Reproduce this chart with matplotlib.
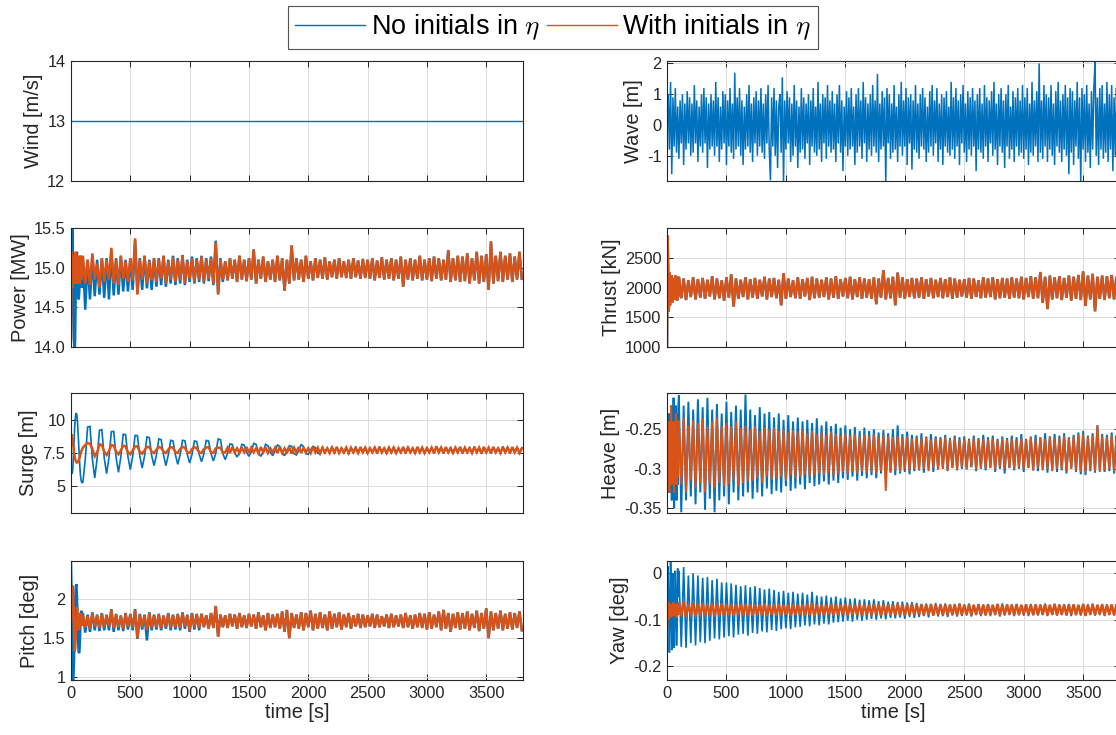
import numpy as np
import matplotlib
matplotlib.use("Agg")
import matplotlib.pyplot as plt
from matplotlib.lines import Line2D

# ---------------- time grids ----------------
time_early = np.arange(0, 100, 5)
time_main = np.arange(100, 3801, 20)
time = np.concatenate([time_early, time_main])
time_wave = np.arange(0, 3801, 10)

x_ticks = [0, 500, 1000, 1500, 2000, 2500, 3000, 3500]
x_tick_labels = ["0", "500", "1000", "1500", "2000", "2500", "3000", "3500"]

# ---------------- Wind ----------------
wind_time = [0, 3810]
wind = [13.0, 13.0]

# ---------------- Wave (only "no initials"), 10 s samples ----------------
wave = [0.3, 1.0, -0.8, 1.4, -1.6, 0.9, -0.7, 1.2, -0.9, 0.6, -1.1, 0.8, -0.6, 1.0, -1.3, 0.7, -0.8, 1.1, -0.6, 0.9,
        -1.0, 0.7, -0.9, 1.3, -0.6, 0.8, -1.2, 0.6, -0.7, 1.0, -0.9, 1.2, -0.6, 0.9, -1.4, 0.7, -0.8, 1.0, -0.7, 0.8,
        -1.0, 1.4, -0.7, 0.9, -1.2, 0.6, -0.8, 1.1, -0.6, 1.0, -1.3, 0.8, -0.7, 1.2, -0.9, 0.7, -1.1, 1.7, -0.8, 0.9,
        -0.7, 1.2, -1.0, 0.8, -1.3, 0.6, -0.8, 1.0, -0.7, 1.3, -0.9, 0.7, -1.2, 0.9, -0.6, 1.1, -1.0, 0.8, -0.7, 1.2,
        -0.9, 0.7, -1.1, 1.0, -0.6, 1.3, -0.8, -1.8, 0.9, -0.7, 1.2, -1.0, 0.8, -1.4, 0.6, 1.0, -0.9, 1.55, -1.9, 0.8,
        -0.8, 1.1, -0.6, 0.9, -1.2, 0.7, -1.0, 1.3, -0.7, 0.8, -1.4, 0.6, -0.9, 1.2, -0.8, 0.9, -1.1, 0.7, -0.6, 1.0,
        -1.3, 0.8, -0.7, 1.2, -0.9, 0.6, -1.0, 1.4, -0.8, 0.7, -1.2, 1.0, -0.6, 0.9, -1.1, 1.3, -0.7, 0.8, -0.9, 1.1,
        -0.8, 0.7, -1.2, 1.0, -0.6, 1.3, -0.9, 0.8, -1.5, 0.6, -0.7, 1.1, -1.0, 0.9, -0.8, 1.2, -0.7, 0.6, -1.3, 1.0,
        -0.9, 1.2, -0.7, 0.8, -1.1, 1.4, -0.6, 0.9, -1.2, 0.7, -0.8, 1.0, -1.0, 1.3, -0.7, 0.8, -0.9, 1.66, -1.2, 0.7,
        -0.8, 1.1, -0.7, 0.9, -1.9, 1.2, -0.6, 1.0, -1.1, 0.7, -0.9, 1.3, -0.8, 0.6, -1.2, 1.0, -0.7, 1.4, -1.0, 0.8,
        -0.7, 1.2, -1.3, 0.9, -0.6, 1.0, -1.45, 0.8, -0.8, 1.3, -0.9, 0.7, -1.1, 1.0, -0.7, 1.2, -0.8, 0.9, -1.2, 0.6,
        -0.9, 1.1, -0.7, 1.3, -1.0, 0.8, -0.6, 1.2, -1.2, 0.7, -0.8, 1.0, -1.3, 0.9, -0.7, 1.1, -0.9, 0.6, -1.0, 1.4,
        -0.8, 0.9, -1.1, 1.2, -0.7, 0.8, -1.3, 1.0, -0.6, 1.3, -0.9, 0.7, -1.2, 1.1, -0.8, 0.9, -1.0, 1.2, -0.7, 0.8,
        -1.5, 1.0, -0.8, 1.2, -0.9, 0.7, -1.1, 1.3, -0.7, 0.9, -1.2, 0.8, -0.6, 1.1, -1.0, 1.4, -0.8, 0.7, -1.3, 1.0,
        -0.7, 1.2, -0.9, 0.8, -1.4, 1.0, -0.7, 1.3, -1.1, 0.6, -0.8, 1.1, -1.2, 0.9, -0.7, 1.2, -1.0, 0.8, -0.9, 1.3,
        -1.1, 0.9, -0.8, 1.2, -1.3, 0.7, -0.9, 1.4, -1.0, 0.8, -0.7, 1.1, -1.2, 2.0, -0.9, 0.8, -1.1, 1.3, -0.7, 1.0,
        -1.2, 0.9, -0.8, 1.3, -1.0, 0.7, -1.3, 1.1, -0.7, 1.4, -0.9, 0.8, -1.2, 1.0, -0.8, 1.3, -1.0, 0.9, -1.6, 1.2,
        -0.9, 1.1, -1.3, 0.8, -0.7, 1.4, -1.1, 0.9, -1.9, 1.2, -0.8, 1.0, -1.2, 1.3, -0.9, 0.7, -1.4, 1.1, -0.8, 1.2,
        2.05, -1.0, 0.9, -1.3, 1.2, -0.8, 1.3, -1.1, 0.7, -0.9, 1.4, -1.2, 1.0, -0.8, 1.3, -1.5, 0.9, -1.0, 1.2, -0.7,
        1.0]

# ---------------- Power [MW] ----------------
power_with = [14.06, 15.2, 14.9, 14.75, 15.15, 14.85, 15.1, 14.8, 15.2, 14.85,
              15.05, 14.8, 15.15, 14.9, 15.1, 14.8, 15.15, 14.85, 15.1, 14.9,
              15.15, 14.8, 15.1, 14.78, 15.18, 14.85, 15.05, 14.75, 15.12, 14.82,
              15.1, 14.85, 15.25, 14.8, 15.1, 14.78, 15.15, 14.86, 15.08, 14.82,
              15.12, 14.84, 15.37, 14.66, 15.1, 14.85, 15.15, 14.8, 15.08, 14.84,
              15.12, 14.82, 15.1, 14.86, 15.15, 14.8, 15.08, 14.85, 15.13, 14.82,
              15.1, 14.84, 15.15, 14.8, 15.08, 14.86, 15.12, 14.82, 15.1, 14.85,
              15.14, 14.82, 15.1, 14.86, 15.12, 14.8, 15.32, 14.66, 15.1, 14.85,
              15.08, 14.84, 15.12, 14.86, 15.1, 14.82, 15.15, 14.85, 15.1, 14.83,
              15.12, 14.85, 15.23, 14.8, 15.1, 14.86, 15.14, 14.82, 15.08, 14.85,
              15.1, 14.82, 15.15, 14.84, 15.12, 14.71, 15.1, 14.8, 15.28, 14.84,
              15.12, 14.85, 15.1, 14.82, 15.15, 14.86, 15.08, 14.84, 15.12, 14.87,
              15.1, 14.86, 15.13, 14.85, 15.08, 14.88, 15.1, 14.86, 15.12, 14.88,
              15.08, 14.87, 15.1, 14.86, 15.12, 14.88, 15.09, 14.86, 15.11, 14.87,
              15.1, 14.86, 15.12, 14.84, 15.09, 14.87, 15.13, 14.85, 15.1, 14.86,
              15.12, 14.84, 15.1, 14.86, 15.14, 14.76, 15.1, 14.85, 15.12, 14.84,
              15.1, 14.86, 15.15, 14.84, 15.1, 14.85, 15.12, 14.83, 15.14, 14.86,
              15.12, 14.84, 15.1, 14.85, 15.22, 14.82, 15.12, 14.84, 15.15, 14.82,
              15.14, 14.83, 15.18, 14.8, 15.12, 14.84, 15.2, 14.8, 15.15, 14.82,
              15.17, 14.72, 15.33, 14.8, 15.15, 14.83, 15.2, 14.82, 15.15, 14.85,
              15.18, 14.82, 15.14, 14.85, 15.2, 14.86]
power_no_start = [14.1, 15.0, 15.5, 15.3, 14.7, 14.2, 13.9, 14.1, 14.7, 15.1,
                  15.2, 14.9, 14.65, 14.6, 14.7, 15.0, 15.15, 14.9, 14.75, 14.95,
                  15.12, 14.47, 15.1, 14.6, 15.15, 14.64, 15.1, 14.66, 15.12, 14.62,
                  15.12, 14.6, 15.22, 14.65, 15.12, 14.66, 15.15, 14.7, 15.1, 14.7,
                  15.12, 14.72, 15.35, 14.68, 15.12, 14.72, 15.15, 14.74, 15.1, 14.72,
                  15.12, 14.76, 15.12, 14.78, 15.15, 14.76, 15.1, 14.8, 15.15, 14.78,
                  15.12, 14.8, 15.16, 14.78, 15.1, 14.82, 15.14, 14.8, 15.12, 14.82,
                  15.15, 14.8, 15.12, 14.83, 15.14, 14.78, 15.34, 14.68, 15.12, 14.82]
power_no = power_no_start + power_with[len(power_no_start):]

# ---------------- Thrust [kN] ----------------
thrust_with = [1000, 2870, 2300, 1600, 2250, 1700, 2150, 1800, 2200, 1750,
               2100, 1850, 2150, 1800, 2200, 1820, 2120, 1780, 2180, 1850,
               2180, 1820, 2150, 1790, 2120, 1840, 2170, 1800, 2140, 1830,
               2160, 1810, 2130, 1850, 2190, 1800, 2150, 1820, 2120, 1780,
               2170, 1830, 2220, 1680, 2150, 1810, 2130, 1840, 2170, 1800,
               2140, 1830, 2160, 1810, 2130, 1850, 2180, 1800, 2150, 1840,
               2160, 1820, 2130, 1700, 2240, 1810, 2150, 1840, 2120, 1820,
               2170, 1810, 2140, 1850, 2160, 1790, 2180, 1820, 2150, 1830,
               2130, 1840, 2170, 1800, 2150, 1830, 2190, 1810, 2140, 1850,
               2160, 1820, 2180, 1800, 2140, 1840, 2170, 1810, 2150, 1830,
               2140, 1810, 2170, 1720, 2150, 1830, 2290, 1800, 2160, 1820,
               2180, 1700, 2250, 1830, 2170, 1810, 2140, 1840, 2160, 1820,
               2150, 1830, 2170, 1810, 2140, 1850, 2160, 1820, 2130, 1840,
               2160, 1820, 2140, 1840, 2170, 1810, 2150, 1830, 2130, 1850,
               2140, 1830, 2160, 1810, 2150, 1840, 2120, 1820, 2170, 1830,
               2150, 1840, 2170, 1800, 2140, 1820, 2160, 1830, 2150, 1810,
               2170, 1830, 2150, 1820, 2180, 1800, 2160, 1840, 2190, 1810,
               2170, 1820, 2260, 1740, 2180, 1638, 2200, 1800, 2170, 1820,
               2190, 1790, 2160, 1830, 2200, 1780, 2180, 1810, 2210, 1790,
               2270, 1690, 2200, 1800, 2230, 1600, 2180, 1810, 2200, 1790,
               2190, 1820, 2210, 1800, 2180, 1830]
thrust_no = list(thrust_with)

# ---------------- Surge [m] ----------------
surge_no = [6.4, 6.1, 5.95, 6.3, 7.2, 8.3, 9.3, 10.0, 10.4, 10.5,
            10.3, 9.8, 9.0, 8.1, 7.2, 6.4, 5.8, 5.45, 5.3, 5.28,
            5.3, 7.0, 9.45, 9.5, 7.05, 5.62, 7.08, 9.2, 9.25, 7.14,
            5.95, 7.16, 9.1, 9.12, 7.18, 6.05, 7.2, 8.9, 8.88, 7.22,
            6.25, 7.25, 8.82, 8.8, 7.27, 6.37, 7.28, 8.7, 8.66, 7.3,
            6.55, 7.35, 8.55, 8.5, 7.34, 6.55, 7.36, 8.45, 8.4, 7.37,
            6.65, 7.38, 8.45, 8.42, 7.4, 6.75, 7.4, 8.4, 8.36, 7.42,
            6.85, 7.43, 8.44, 8.4, 7.45, 6.9, 7.45, 8.55, 8.5, 7.45,
            7.0, 7.5, 8.18, 8.14, 7.5, 7.2, 7.55, 8.15, 8.1, 7.55,
            7.25, 7.6, 8.22, 8.15, 7.5, 7.25, 7.6, 8.15, 8.05, 7.55,
            7.3, 7.65, 8.1, 8.0, 7.5, 7.3, 7.7, 8.05, 8.0, 7.45,
            7.35, 7.7, 8.15, 7.95, 7.45, 7.4, 7.75, 8.0, 7.9, 7.5,
            7.4, 7.95, 7.45, 7.9, 7.5, 8.0, 7.45, 7.95, 7.5, 7.9,
            7.45, 7.95, 7.4, 7.9, 7.5, 8.0, 7.45, 7.9, 7.5, 7.95,
            7.45, 7.9, 7.5, 7.95, 7.45, 8.0, 7.5, 7.9, 7.45, 7.95,
            7.5, 7.95, 7.45, 7.9, 7.5, 7.95, 7.45, 8.0, 7.5, 7.9,
            7.45, 7.95, 7.5, 7.9, 7.45, 7.95, 7.5, 7.9, 7.45, 8.0,
            7.5, 7.95, 7.45, 7.9, 7.5, 7.95, 7.45, 7.9, 7.5, 7.95,
            7.45, 7.9, 7.5, 7.95, 7.45, 8.0, 7.5, 7.9, 7.45, 7.95,
            7.5, 7.9, 7.45, 7.95, 7.5, 7.9, 7.45, 8.0, 7.5, 7.95,
            7.45, 7.9, 7.5, 7.95, 7.45, 7.9]
surge_with = [8.8, 8.9, 8.7, 8.4, 8.0, 7.6, 7.3, 7.05, 6.9, 6.82,
              6.78, 6.8, 6.85, 6.95, 7.1, 7.25, 7.4, 7.55, 7.7, 7.8,
              7.9, 8.1, 8.25, 8.2, 7.8, 7.25, 7.55, 8.15, 8.1, 7.6,
              7.35, 7.65, 8.1, 8.05, 7.6, 7.4, 7.7, 8.05, 8.0, 7.55,
              7.4, 7.7, 8.0, 8.0, 7.6, 7.45, 7.7, 7.95, 7.95, 7.6,
              7.5, 7.75, 7.95, 7.9, 7.6, 7.5, 7.75, 7.95, 7.9, 7.55,
              7.5, 7.8, 7.95, 7.9, 7.55, 7.5, 7.8, 7.95, 7.85, 7.55,
              7.5, 7.8, 7.9, 7.95, 7.55, 7.5, 7.85, 7.9, 7.9, 7.5,
              7.55, 7.9, 7.5, 7.95, 7.55, 7.85, 7.5, 7.9, 7.55, 7.95,
              7.5, 7.9, 7.55, 7.85, 7.5, 7.95, 7.55, 7.9, 7.5, 7.85,
              7.55, 7.9, 7.5, 7.95, 7.5, 7.85, 7.55, 7.9, 7.45, 7.9,
              7.55, 7.95, 7.5, 7.9, 7.55, 7.85, 7.5, 7.95, 7.55, 7.9,
              7.5, 7.9, 7.55, 7.85, 7.5, 7.9, 7.55, 7.95, 7.5, 7.85,
              7.55, 7.9, 7.5, 7.9, 7.55, 7.85, 7.5, 7.95, 7.55, 7.9,
              7.5, 7.85, 7.55, 7.9, 7.5, 7.95, 7.55, 7.85, 7.5, 7.9,
              7.55, 7.9, 7.5, 7.85, 7.55, 7.95, 7.5, 7.9, 7.55, 7.85,
              7.5, 7.95, 7.55, 7.9, 7.5, 7.85, 7.55, 7.9, 7.5, 8.0,
              7.55, 7.9, 7.5, 7.95, 7.55, 7.85, 7.5, 7.9, 7.55, 7.95,
              7.5, 7.9, 7.55, 7.85, 7.5, 7.95, 7.55, 7.9, 7.45, 7.95,
              7.55, 7.9, 7.5, 7.95, 7.55, 7.85, 7.5, 7.95, 7.55, 7.9,
              7.5, 7.95, 7.55, 7.9, 7.5, 7.85]

# ---------------- Heave [m] ----------------
heave_no = [-0.28, -0.25, -0.33, -0.23, -0.33, -0.24, -0.32, -0.22, -0.34, -0.23,
            -0.33, -0.21, -0.35, -0.24, -0.33, -0.22, -0.34, -0.23, -0.32, -0.22,
            -0.207, -0.355, -0.22, -0.34, -0.215, -0.335, -0.225, -0.345, -0.212, -0.33,
            -0.222, -0.352, -0.21, -0.338, -0.225, -0.355, -0.218, -0.34, -0.23, -0.335,
            -0.215, -0.345, -0.228, -0.33, -0.22, -0.34, -0.225, -0.335, -0.206, -0.33,
            -0.225, -0.338, -0.232, -0.33, -0.222, -0.335, -0.23, -0.325, -0.228, -0.332,
            -0.235, -0.328, -0.23, -0.33, -0.238, -0.322, -0.232, -0.328, -0.24, -0.325,
            -0.235, -0.32, -0.24, -0.326, -0.238, -0.318, -0.242, -0.322, -0.236, -0.32,
            -0.245, -0.316, -0.24, -0.32, -0.246, -0.315, -0.243, -0.318, -0.248, -0.312,
            -0.245, -0.314, -0.25, -0.31, -0.247, -0.315, -0.252, -0.309, -0.248, -0.312,
            -0.252, -0.308, -0.25, -0.312, -0.254, -0.306, -0.251, -0.31, -0.255, -0.305,
            -0.25, -0.308, -0.245, -0.306, -0.256, -0.304, -0.253, -0.307, -0.257, -0.303,
            -0.258, -0.302, -0.255, -0.305, -0.26, -0.3, -0.256, -0.304, -0.259, -0.301,
            -0.26, -0.3, -0.257, -0.303, -0.261, -0.299, -0.258, -0.302, -0.26, -0.3,
            -0.259, -0.301, -0.262, -0.298, -0.258, -0.303, -0.261, -0.3, -0.257, -0.302,
            -0.26, -0.299, -0.258, -0.304, -0.262, -0.3, -0.259, -0.306, -0.261, -0.299,
            -0.258, -0.302, -0.26, -0.3, -0.256, -0.304, -0.262, -0.299, -0.259, -0.302,
            -0.257, -0.303, -0.26, -0.3, -0.255, -0.305, -0.259, -0.301, -0.256, -0.304,
            -0.258, -0.302, -0.255, -0.306, -0.26, -0.3, -0.257, -0.304, -0.254, -0.307,
            -0.252, -0.308, -0.258, -0.303, -0.255, -0.305, -0.245, -0.302, -0.256, -0.304,
            -0.257, -0.303, -0.254, -0.306, -0.258, -0.302]
heave_with = [-0.28, -0.26, -0.3, -0.24, -0.33, -0.25, -0.31, -0.22, -0.32, -0.24,
              -0.31, -0.25, -0.33, -0.24, -0.3, -0.23, -0.32, -0.25, -0.31, -0.24,
              -0.24, -0.32, -0.235, -0.33, -0.245, -0.315, -0.238, -0.325, -0.242, -0.318,
              -0.236, -0.33, -0.245, -0.32, -0.24, -0.325, -0.235, -0.318, -0.245, -0.322,
              -0.242, -0.32, -0.246, -0.315, -0.24, -0.322, -0.248, -0.318, -0.245, -0.316,
              -0.25, -0.315, -0.246, -0.312, -0.252, -0.318, -0.248, -0.31, -0.25, -0.314,
              -0.248, -0.312, -0.252, -0.31, -0.25, -0.315, -0.254, -0.308, -0.251, -0.312,
              -0.253, -0.31, -0.25, -0.307, -0.255, -0.31, -0.252, -0.308, -0.256, -0.306,
              -0.254, -0.308, -0.257, -0.305, -0.253, -0.309, -0.256, -0.306, -0.258, -0.304,
              -0.255, -0.307, -0.258, -0.304, -0.256, -0.306, -0.259, -0.303, -0.257, -0.305,
              -0.258, -0.304, -0.256, -0.306, -0.26, -0.303, -0.257, -0.328, -0.259, -0.304,
              -0.26, -0.302, -0.258, -0.304, -0.261, -0.301, -0.259, -0.303, -0.262, -0.3,
              -0.26, -0.302, -0.262, -0.3, -0.259, -0.303, -0.263, -0.299, -0.261, -0.301,
              -0.262, -0.3, -0.26, -0.302, -0.263, -0.299, -0.261, -0.301, -0.264, -0.298,
              -0.262, -0.3, -0.264, -0.298, -0.261, -0.301, -0.263, -0.299, -0.262, -0.3,
              -0.263, -0.299, -0.261, -0.301, -0.264, -0.298, -0.262, -0.3, -0.263, -0.299,
              -0.262, -0.3, -0.264, -0.298, -0.261, -0.301, -0.263, -0.299, -0.26, -0.302,
              -0.263, -0.299, -0.26, -0.302, -0.262, -0.3, -0.259, -0.303, -0.262, -0.3,
              -0.261, -0.301, -0.258, -0.303, -0.262, -0.3, -0.259, -0.302, -0.257, -0.304,
              -0.256, -0.305, -0.26, -0.301, -0.258, -0.303, -0.245, -0.304, -0.259, -0.302,
              -0.26, -0.301, -0.257, -0.303, -0.261, -0.3]

# ---------------- Pitch [deg] ----------------
pitch_with = [1.72, 1.9, 2.1, 2.17, 2.0, 1.6, 1.33, 1.36, 1.55, 1.78,
              1.9, 1.85, 1.7, 1.6, 1.62, 1.75, 1.82, 1.76, 1.66, 1.72,
              1.8, 1.64, 1.78, 1.62, 1.82, 1.65, 1.79, 1.63, 1.81, 1.64,
              1.79, 1.65, 1.86, 1.63, 1.8, 1.64, 1.78, 1.62, 1.81, 1.65,
              1.8, 1.63, 1.86, 1.5, 1.8, 1.64, 1.79, 1.6, 1.82, 1.63,
              1.79, 1.64, 1.8, 1.62, 1.78, 1.65, 1.81, 1.63, 1.79, 1.64,
              1.8, 1.63, 1.82, 1.65, 1.79, 1.6, 1.81, 1.64, 1.8, 1.63,
              1.81, 1.64, 1.79, 1.62, 1.82, 1.63, 1.91, 1.52, 1.8, 1.64,
              1.79, 1.63, 1.81, 1.65, 1.8, 1.62, 1.82, 1.64, 1.79, 1.63,
              1.81, 1.65, 1.8, 1.62, 1.83, 1.64, 1.79, 1.6, 1.82, 1.63,
              1.8, 1.64, 1.81, 1.62, 1.84, 1.58, 1.86, 1.5, 1.82, 1.63,
              1.8, 1.62, 1.83, 1.6, 1.82, 1.64, 1.85, 1.6, 1.81, 1.62,
              1.83, 1.63, 1.8, 1.6, 1.84, 1.62, 1.81, 1.64, 1.83, 1.61,
              1.8, 1.64, 1.82, 1.62, 1.79, 1.65, 1.81, 1.63, 1.8, 1.64,
              1.79, 1.65, 1.81, 1.63, 1.8, 1.64, 1.78, 1.65, 1.8, 1.63,
              1.81, 1.64, 1.79, 1.65, 1.8, 1.63, 1.82, 1.64, 1.79, 1.62,
              1.8, 1.64, 1.82, 1.63, 1.81, 1.61, 1.83, 1.62, 1.8, 1.64,
              1.84, 1.6, 1.86, 1.62, 1.82, 1.58, 1.81, 1.63, 1.83, 1.61,
              1.82, 1.62, 1.84, 1.6, 1.81, 1.63, 1.85, 1.59, 1.82, 1.62,
              1.88, 1.5, 1.84, 1.6, 1.82, 1.62, 1.85, 1.6, 1.81, 1.62,
              1.83, 1.61, 1.82, 1.63, 1.84, 1.6]
pitch_no_start = [2.48, 2.0, 1.3, 0.97, 0.97, 1.2, 1.6, 1.95, 2.15, 2.19,
                  2.05, 1.75, 1.45, 1.32, 1.31, 1.45, 1.7, 1.85, 1.82, 1.7,
                  1.82, 1.57, 1.8, 1.58, 1.83, 1.6, 1.8, 1.59, 1.82, 1.6,
                  1.8, 1.6, 1.87, 1.58, 1.81, 1.6, 1.79, 1.59, 1.82, 1.61,
                  1.81, 1.6, 1.87, 1.49, 1.81, 1.61, 1.8, 1.47, 1.83, 1.6,
                  1.8, 1.61, 1.81, 1.6, 1.79, 1.62, 1.82, 1.6, 1.8, 1.61,
                  1.81, 1.6, 1.83, 1.62, 1.8, 1.58, 1.82, 1.61, 1.81, 1.6]
pitch_no = pitch_no_start + pitch_with[len(pitch_no_start):]

# ---------------- Yaw [deg] ----------------
yaw_no = [-0.229, -0.02, 0.015, -0.06, -0.17, -0.11, 0.03, -0.03, -0.165, -0.12,
          0.0, -0.05, -0.16, -0.1, 0.005, -0.04, -0.155, -0.11, 0.01, -0.05,
          0.005, -0.158, 0.013, -0.16, -0.005, -0.15, 0.0, -0.155, -0.005, -0.148,
          -0.01, -0.15, -0.008, -0.145, -0.015, -0.14, -0.012, -0.142, -0.02, -0.138,
          -0.02, -0.135, -0.022, -0.138, -0.025, -0.132, -0.028, -0.13, -0.026, -0.134,
          -0.03, -0.128, -0.028, -0.13, -0.032, -0.125, -0.035, -0.127, -0.033, -0.122,
          -0.036, -0.124, -0.04, -0.12, -0.038, -0.118, -0.042, -0.12, -0.04, -0.116,
          -0.044, -0.115, -0.042, -0.112, -0.046, -0.114, -0.04, -0.11, -0.048, -0.112,
          -0.05, -0.108, -0.048, -0.11, -0.052, -0.106, -0.05, -0.105, -0.054, -0.104,
          -0.052, -0.102, -0.055, -0.104, -0.054, -0.1, -0.057, -0.102, -0.056, -0.1,
          -0.058, -0.098, -0.056, -0.1, -0.06, -0.097, -0.058, -0.099, -0.061, -0.096,
          -0.06, -0.097, -0.062, -0.095, -0.061, -0.098, -0.063, -0.094, -0.062, -0.096,
          -0.064, -0.094, -0.066, -0.092, -0.065, -0.095, -0.067, -0.091, -0.064, -0.093,
          -0.066, -0.092, -0.065, -0.094, -0.068, -0.091, -0.066, -0.093, -0.065, -0.092,
          -0.067, -0.091, -0.065, -0.093, -0.068, -0.09, -0.066, -0.092, -0.067, -0.091,
          -0.066, -0.092, -0.068, -0.09, -0.067, -0.093, -0.065, -0.091, -0.068, -0.09,
          -0.067, -0.092, -0.066, -0.09, -0.068, -0.091, -0.067, -0.092, -0.066, -0.09,
          -0.068, -0.091, -0.067, -0.09, -0.065, -0.092, -0.068, -0.09, -0.066, -0.091,
          -0.067, -0.09, -0.068, -0.091, -0.066, -0.092, -0.067, -0.09, -0.068, -0.091,
          -0.066, -0.092, -0.067, -0.09, -0.065, -0.091, -0.068, -0.09, -0.066, -0.092,
          -0.067, -0.09, -0.068, -0.091, -0.066, -0.09]
yaw_with = [-0.12, -0.06, -0.1, -0.065, -0.095, -0.07, -0.09, -0.066, -0.094, -0.07,
            -0.088, -0.063, -0.092, -0.07, -0.09, -0.066, -0.095, -0.068, -0.09, -0.065,
            -0.064, -0.092, -0.06, -0.094, -0.066, -0.09, -0.063, -0.093, -0.066, -0.09,
            -0.065, -0.092, -0.067, -0.09, -0.064, -0.093, -0.066, -0.09, -0.065, -0.092,
            -0.067, -0.09, -0.066, -0.091, -0.068, -0.089, -0.065, -0.092, -0.067, -0.09,
            -0.066, -0.091, -0.068, -0.089, -0.067, -0.09, -0.065, -0.092, -0.068, -0.089,
            -0.067, -0.09, -0.066, -0.091, -0.068, -0.089, -0.067, -0.092, -0.066, -0.09,
            -0.068, -0.089, -0.067, -0.091, -0.066, -0.09, -0.064, -0.093, -0.068, -0.089,
            -0.067, -0.09, -0.068, -0.089, -0.066, -0.091, -0.067, -0.09, -0.068, -0.088,
            -0.066, -0.091, -0.067, -0.089, -0.068, -0.09, -0.066, -0.091, -0.067, -0.089,
            -0.068, -0.09, -0.067, -0.089, -0.066, -0.091, -0.068, -0.088, -0.067, -0.09,
            -0.068, -0.089, -0.066, -0.09, -0.067, -0.091, -0.068, -0.089, -0.067, -0.09,
            -0.068, -0.088, -0.067, -0.09, -0.068, -0.089, -0.066, -0.091, -0.068, -0.089,
            -0.067, -0.09, -0.068, -0.088, -0.067, -0.089, -0.068, -0.09, -0.066, -0.089,
            -0.068, -0.089, -0.067, -0.09, -0.068, -0.088, -0.067, -0.089, -0.068, -0.09,
            -0.067, -0.089, -0.068, -0.088, -0.066, -0.09, -0.068, -0.089, -0.067, -0.088,
            -0.068, -0.089, -0.067, -0.09, -0.068, -0.088, -0.067, -0.089, -0.068, -0.09,
            -0.067, -0.089, -0.068, -0.088, -0.067, -0.09, -0.068, -0.089, -0.066, -0.09,
            -0.068, -0.089, -0.067, -0.09, -0.068, -0.088, -0.067, -0.09, -0.068, -0.089,
            -0.066, -0.091, -0.068, -0.089, -0.067, -0.09, -0.068, -0.088, -0.067, -0.09,
            -0.068, -0.089, -0.067, -0.09, -0.068, -0.089]

assert len(wave) == len(time_wave), ("wave", len(wave), len(time_wave))
for name, s in [("power_with", power_with), ("power_no", power_no),
                ("thrust", thrust_with), ("surge_no", surge_no), ("surge_with", surge_with),
                ("heave_no", heave_no), ("heave_with", heave_with), ("pitch_with", pitch_with),
                ("pitch_no", pitch_no), ("yaw_no", yaw_no), ("yaw_with", yaw_with)]:
    assert len(s) == len(time), (name, len(s), len(time))

# ---------------- styling ----------------
plt.rcParams['font.family'] = ['Liberation Sans', 'DejaVu Sans']
plt.rcParams['mathtext.fontset'] = 'cm'
plt.rcParams['axes.unicode_minus'] = False

C_NO = '#0072BD'
C_WITH = '#D95319'
TXT = '#262626'
THIN = 1.0
BAND = 1.8

fig = plt.figure(figsize=(11.16, 7.35), dpi=100)
W, H = 1116.0, 735.0

def make_ax(x0, x1, y0, y1):
    return fig.add_axes([x0 / W, 1 - y1 / H, (x1 - x0) / W, (y1 - y0) / H])

left_x = (71, 523)
right_x = (667, 1120)
rows_y = [(61, 181), (228, 347), (393, 513), (561, 680)]

panels = [
    # (column, row, ylim, yticks, yticklabels, ylabel, series (x, y, colour, width))
    (left_x, 0, (12, 14), [12, 13, 14], ["12", "13", "14"], "Wind [m/s]",
     [(wind_time, wind, C_NO, THIN)]),
    (right_x, 0, (-1.82, 2.08), [-1, 0, 1, 2], ["-1", "0", "1", "2"], "Wave [m]",
     [(time_wave, wave, C_NO, 1.1)]),
    (left_x, 1, (14.0, 15.5), [14.0, 14.5, 15.0, 15.5], ["14.0", "14.5", "15.0", "15.5"], "Power [MW]",
     [(time, power_no, C_NO, BAND), (time, power_with, C_WITH, BAND)]),
    (right_x, 1, (1000, 3000), [1000, 1500, 2000, 2500], ["1000", "1500", "2000", "2500"], "Thrust [kN]",
     [(time, thrust_no, C_NO, BAND), (time, thrust_with, C_WITH, BAND)]),
    (left_x, 2, (3, 12), [5, 7.5, 10], ["5", "7.5", "10"], "Surge [m]",
     [(time, surge_no, C_NO, 1.2), (time, surge_with, C_WITH, BAND)]),
    (right_x, 2, (-0.356, -0.204), [-0.35, -0.3, -0.25], ["-0.35", "-0.3", "-0.25"], "Heave [m]",
     [(time, heave_no, C_NO, 1.4), (time, heave_with, C_WITH, 1.4)]),
    (left_x, 3, (0.965, 2.485), [1, 1.5, 2], ["1", "1.5", "2"], "Pitch [deg]",
     [(time, pitch_no, C_NO, BAND), (time, pitch_with, C_WITH, BAND)]),
    (right_x, 3, (-0.229, 0.026), [-0.2, -0.1, 0], ["-0.2", "-0.1", "0"], "Yaw [deg]",
     [(time, yaw_no, C_NO, 1.2), (time, yaw_with, C_WITH, BAND)]),
]

for xs, row, ylim, yt, ytl, ylab, series in panels:
    ax = make_ax(xs[0], xs[1], rows_y[row][0], rows_y[row][1])
    for tx, vals, col, lw in series:
        ax.plot(tx, vals, color=col, lw=lw, solid_joinstyle='miter')
    ax.set_xlim(0, 3810)
    ax.set_ylim(*ylim)
    ax.set_xticks(x_ticks)
    ax.set_yticks(yt)
    ax.set_yticklabels(ytl)
    if row == 3:
        ax.set_xticklabels(x_tick_labels)
        ax.set_xlabel("time [s]", fontsize=14.4, color=TXT, labelpad=2)
    else:
        ax.set_xticklabels([])
    ax.grid(True, color='#dcdcdc', lw=0.7)
    ax.set_axisbelow(True)
    ax.tick_params(direction='in', length=4, width=0.7, top=True, right=True,
                   labelsize=11.8, colors=TXT, pad=4)
    for sp in ax.spines.values():
        sp.set_color(TXT)
        sp.set_linewidth(0.8)
    ax.set_ylabel(ylab, fontsize=14.4, color=TXT, labelpad=3)

handles = [Line2D([], [], color=C_NO, lw=1.0), Line2D([], [], color=C_WITH, lw=1.0)]
leg = fig.legend(handles, ["No initials in $\\eta$", "With initials in $\\eta$"],
                 loc='center', bbox_to_anchor=(553 / W, 1 - 27.5 / H), ncol=2,
                 fontsize=19.5, frameon=True, fancybox=False, edgecolor=TXT,
                 handlelength=2.6, handletextpad=0.2, columnspacing=0.25,
                 borderpad=0.25, borderaxespad=0.0)
leg.get_frame().set_linewidth(0.8)

fig.savefig("out.png", dpi=100)
